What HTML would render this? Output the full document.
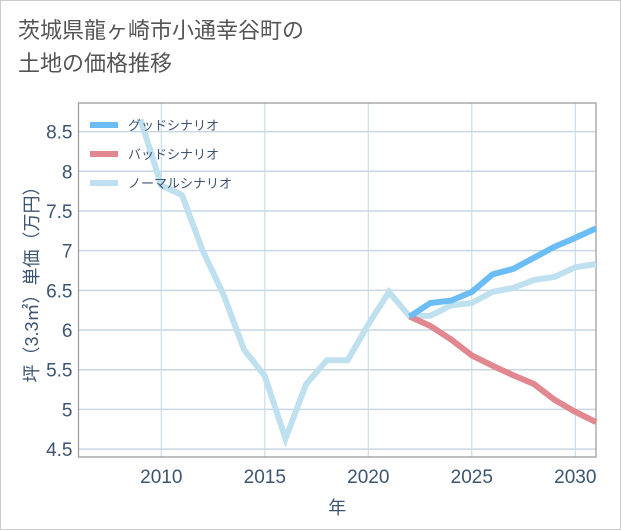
<!DOCTYPE html>
<html><head><meta charset="utf-8"><style>
html,body{margin:0;padding:0;background:#fff}
body{width:621px;height:530px;position:relative;overflow:hidden;font-family:"Liberation Sans","Noto Sans CJK JP",sans-serif}
#frame{position:absolute;left:0;top:0;width:619px;height:528px;border:1px solid #ccc}
#title{position:absolute;left:18px;top:14px;font-size:22px;line-height:33px;color:#555;font-family:"Liberation Sans","Noto Sans CJK JP",sans-serif}
</style></head><body>
<div id="frame"></div>
<div id="title">茨城県龍ヶ崎市小通幸谷町の<br>土地の価格推移</div>
<svg id="chart" width="621" height="530" style="position:absolute;left:0;top:0"></svg>
<script>
const normalYears=[2009,2010,2011,2012,2013,2014,2015,2016,2017,2018,2019,2020,2021,2022,2023,2024,2025,2026,2027,2028,2029,2030,2031];
const normalValues=[8.65,7.82,7.7,7.0,6.45,5.75,5.42,4.63,5.32,5.62,5.62,6.07,6.48,6.17,6.18,6.31,6.34,6.48,6.53,6.63,6.67,6.79,6.83];
const goodYears=[2022,2023,2024,2025,2026,2027,2028,2029,2030,2031];
const goodValues=[6.17,6.34,6.37,6.48,6.70,6.77,6.91,7.05,7.16,7.28];
const badYears=[2022,2023,2024,2025,2026,2027,2028,2029,2030,2031];
const badValues=[6.17,6.05,5.88,5.68,5.55,5.43,5.32,5.12,4.97,4.84];
const xTicks=[2010,2015,2020,2025,2030];
const yTicks=[4.5,5,5.5,6,6.5,7,7.5,8,8.5];
const yTickLabels=["4.5","5","5.5","6","6.5","7","7.5","8","8.5"];
const legendLabels=["グッドシナリオ","バッドシナリオ","ノーマルシナリオ"];
const legendColors=["#6cbdf5","#e0878f","#bfe0ee"];

const L=78.5,R=596,T=103,B=457;
const x0=2006,x1=2031,y0=4.4,y1=8.86;
const sx=v=>L+(v-x0)/(x1-x0)*(R-L);
const sy=v=>B-(v-y0)/(y1-y0)*(B-T);
const svg=document.getElementById('chart');
const NS='http://www.w3.org/2000/svg';
function mk(tag,attrs){const e=document.createElementNS(NS,tag);for(const k in attrs)e.setAttribute(k,attrs[k]);svg.appendChild(e);return e;}

yTicks.forEach((v,i)=>{
  const g=mk('line',{x1:L,x2:R,y1:sy(v),y2:sy(v),stroke:'#c9d6e2','stroke-width':1.5});
  
  
  const t=mk('text',{x:L-6,y:sy(v)+7,'text-anchor':'end','font-size':19,fill:'#3d5470'});
  t.textContent=yTickLabels[i];
  
  
});
xTicks.forEach(v=>{
  const g=mk('line',{x1:sx(v),x2:sx(v),y1:T,y2:B,stroke:'#c9dce8','stroke-width':1.2});
  
  
  const t=mk('text',{x:sx(v),y:B+26,'text-anchor':'middle','font-size':19,fill:'#3d5470'});
  t.textContent=v;
  
  
});
const ax=mk('path',{d:`M${L},${T}H${R}V${B}H${L}Z`,fill:'none',stroke:'#999','stroke-width':1.2});



function line(xs,ys,color,name){
  const d=xs.map((x,i)=>(i?'L':'M')+sx(x).toFixed(1)+','+sy(ys[i]).toFixed(1)).join('');
  const p=mk('path',{d:d,fill:'none',stroke:color,'stroke-width':6,'stroke-linejoin':'miter'});
  
  
}
line(normalYears,normalValues,legendColors[2],'normal-scenario-line');
line(badYears,badValues,legendColors[1],'bad-scenario-line');
line(goodYears,goodValues,legendColors[0],'good-scenario-line');

legendLabels.forEach((lab,i)=>{
  const y=125+i*29;
  const r=mk('rect',{x:90,y:y-3,width:28,height:6,fill:legendColors[i]});
  
  
  const t=mk('text',{x:128,y:y+5,'font-size':13,fill:'#3d5470'});
  t.textContent=lab;
  
  
});

const yt=mk('text',{transform:`translate(38,${(T+B)/2}) rotate(-90)`,'text-anchor':'middle','font-size':18,fill:'#3d5470'});
yt.textContent='坪（3.3㎡）単価（万円）';


const xt=mk('text',{x:(L+R)/2,y:514,'text-anchor':'middle','font-size':18,fill:'#3d5470'});
xt.textContent='年';


</script>
</body></html>
